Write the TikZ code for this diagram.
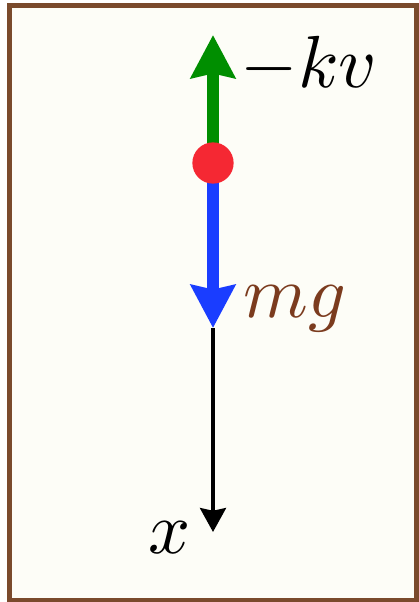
\documentclass[tikz,border=0pt]{standalone}
\usepackage{amsmath}
\usetikzlibrary{arrows.meta, positioning}
\definecolor{frameBrown}{HTML}{7A4A2C}
\definecolor{massBrown}{HTML}{7B3B1E}
\definecolor{bgIvory}{HTML}{FDFDF7}
\definecolor{dragGreen}{HTML}{008E00}
\definecolor{gravBlue}{HTML}{1A3DFF}
\definecolor{dotRed}{HTML}{F52833}

\begin{document}
\begin{tikzpicture}[x=0.02cm, y=-0.02cm,
    force/.style={line width=6.8pt, -{Stealth[length=24.4pt, width=25pt, inset=2.5pt]}},
    lab/.style={inner sep=0pt, scale=4.2}]
    \useasboundingbox (0,0) rectangle (419,602);
    \draw[frameBrown, fill=bgIvory, line width=2.8pt] (9.5,5.5) rectangle (416.5,600);
    % axis and forces
    \coordinate (mass) at (213,163);
    \coordinate (kvtip) at (213,35);
    \coordinate (mgtip) at (213,328);
    \coordinate (xtip) at (213,532);
    \draw[black, line width=2.3pt, -{Stealth[length=13.6pt, width=14.7pt, inset=1.5pt]}] (mgtip) -- (xtip);
    \draw[force, dragGreen] (mass) -- (kvtip);
    \draw[force, gravBlue] (mass) -- (mgtip);
    \node[circle, fill=dotRed, minimum size=23.5pt, inner sep=0pt] (dot) at (mass) {};
    \node[lab] (kv) at (309,65) {$-kv$};
    \node[lab, text=massBrown] (mg) at (295,309) {$mg$};
    \node[lab] (xlab) at (170,538) {$x$};
\end{tikzpicture}
\end{document}
